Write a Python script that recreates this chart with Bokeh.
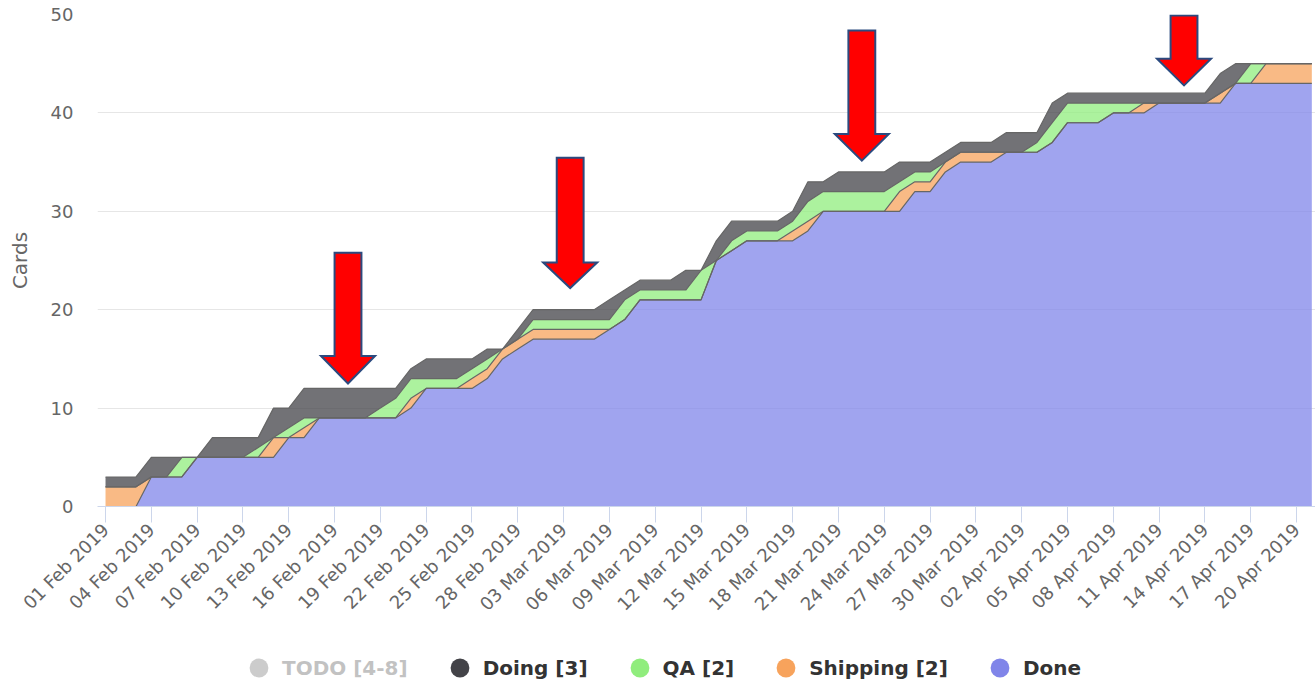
import math
import pandas as pd
from bokeh.plotting import figure
from bokeh.layouts import column
from bokeh.models import (ColumnDataSource, FixedTicker, DatetimeTickFormatter,
                          Legend, LegendItem, Range1d)
from bokeh.embed import file_html
from bokeh.resources import INLINE

# ---------------- data (one value per day, starting 01 Feb 2019) ----------------
START = "2019-02-01"
done = [0, 0, 0, 3, 3, 3, 5, 5, 5, 5,
        5, 5, 7, 7, 9, 9, 9, 9, 9, 9,
        10, 12, 12, 12, 12, 13, 15, 16, 17, 17,
        17, 17, 17, 18, 19, 21, 21, 21, 21, 21,
        25, 26, 27, 27, 27, 27, 28, 30, 30, 30,
        30, 30, 30, 32, 32, 34, 35, 35, 35, 36,
        36, 36, 37, 39, 39, 39, 40, 40, 40, 41,
        41, 41, 41, 41, 43, 43, 43, 43, 43, 43]
shipping = [2, 2, 2, 0, 0, 0, 0, 0, 0, 0,
            0, 2, 0, 1, 0, 0, 0, 0, 0, 0,
            1, 0, 0, 0, 1, 1, 1, 1, 1, 1,
            1, 1, 1, 0, 0, 0, 0, 0, 0, 0,
            0, 0, 0, 0, 0, 1, 1, 0, 0, 0,
            0, 0, 2, 1, 1, 1, 1, 1, 1, 0,
            0, 0, 0, 0, 0, 0, 0, 0, 1, 0,
            0, 0, 0, 1, 0, 0, 2, 2, 2, 2]
qa = [0, 0, 0, 0, 0, 2, 0, 0, 0, 0,
      1, 0, 1, 1, 0, 0, 0, 0, 1, 2,
      2, 1, 1, 1, 1, 1, 0, 0, 1, 1,
      1, 1, 1, 1, 2, 1, 1, 1, 1, 3,
      0, 1, 1, 1, 1, 1, 2, 2, 2, 2,
      2, 2, 1, 1, 1, 0, 0, 0, 0, 0,
      0, 1, 2, 2, 2, 2, 1, 1, 0, 0,
      0, 0, 0, 0, 0, 2, 0, 0, 0, 0]
doing = [1, 1, 1, 2, 2, 0, 0, 2, 2, 2,
         1, 3, 2, 3, 3, 3, 3, 3, 2, 1,
         1, 2, 2, 2, 1, 1, 0, 1, 1, 1,
         1, 1, 1, 2, 1, 1, 1, 1, 2, 0,
         2, 2, 1, 1, 1, 1, 2, 1, 2, 2,
         2, 2, 2, 1, 1, 1, 1, 1, 1, 2,
         2, 1, 2, 1, 1, 1, 1, 1, 1, 1,
         1, 1, 1, 2, 2, 0, 0, 0, 0, 0]

series_names = ["TODO [4-8]", "Doing [3]", "QA [2]", "Shipping [2]", "Done"]
series_colors = ["#7cb5ec", "#434348", "#90ed7d", "#f7a35c", "#8085e9"]
hidden_series = ["TODO [4-8]"]

y_ticks = [0, 10, 20, 30, 40, 50]
x_tick_first = "2019-02-01"
x_tick_last = "2019-04-20"
x_tick_step = "3D"

# annotation arrows: centre (days after start), tip / head-base / top (cards)
arrow_day = [15.88, 30.43, 49.53, 70.63]
arrow_tip = [12.5, 22.2, 35.15, 42.8]
arrow_base = [15.3, 24.8, 37.86, 45.5]
arrow_top = [25.8, 35.45, 48.37, 49.9]
ARROW_SHAFT_HALF = 0.88   # days
ARROW_HEAD_HALF = 1.77    # days

# ---------------- figure ----------------
t0 = pd.Timestamp(START)


def ms(ts):
    return ts.value / 1e6


W = 1315
H_MAIN = 640
H_LEG = 44
FRAME_LEFT = 97

dates = pd.date_range(START, periods=len(done), freq="D")
src = ColumnDataSource(dict(date=dates, done=done, shipping=shipping, qa=qa, doing=doing))

p = figure(width=W, height=H_MAIN, x_axis_type="datetime",
           output_backend="svg", toolbar_location=None,
           x_range=Range1d(ms(t0 - pd.Timedelta(hours=12.6)), ms(t0 + pd.Timedelta(days=79.24))),
           y_range=Range1d(0, 50),
           min_border_left=FRAME_LEFT, min_border_right=0, min_border_top=14,
           min_border_bottom=H_MAIN - 14 - 492)
p.outline_line_color = None
p.background_fill_color = "white"
p.border_fill_color = "white"

stack = ["done", "shipping", "qa", "doing"]
stack_colors = [series_colors[4], series_colors[3], series_colors[2], series_colors[1]]
p.varea_stack(stack, x="date", fill_color=stack_colors, fill_alpha=0.75, source=src)
p.vline_stack(stack, x="date", line_color="#666666", line_width=1.2, source=src)

# arrows
axs, ays = [], []
for d, tip, base, top in zip(arrow_day, arrow_tip, arrow_base, arrow_top):
    c = t0 + pd.Timedelta(days=d)
    sw = pd.Timedelta(days=ARROW_SHAFT_HALF)
    hw = pd.Timedelta(days=ARROW_HEAD_HALF)
    axs.append([ms(c - sw), ms(c + sw), ms(c + sw), ms(c + hw), ms(c), ms(c - hw), ms(c - sw)])
    ays.append([top, top, base, base, tip, base, base])
p.patches(axs, ays, fill_color="#ff0000", line_color="#2b4a7f", line_width=2, line_join="miter")

# axes
ticks = pd.date_range(x_tick_first, x_tick_last, freq=x_tick_step)
xa = p.xaxis[0]
xa.ticker = FixedTicker(ticks=[ms(t) for t in ticks])
fmt = "%d %b %Y"
xa.formatter = DatetimeTickFormatter(milliseconds=fmt, seconds=fmt, minsec=fmt, minutes=fmt,
                                     hourmin=fmt, hours=fmt, days=fmt, months=fmt, years=fmt)
xa.major_label_orientation = math.pi / 4
xa.major_label_text_font = "DejaVu Sans"
xa.major_label_text_font_size = "18px"
xa.major_label_text_color = "#666666"
xa.major_label_standoff = 4
xa.axis_line_color = "#ccd6eb"
xa.major_tick_line_color = "#ccd6eb"
xa.major_tick_out = 16
xa.major_tick_in = 0
xa.minor_tick_line_color = None

ya = p.yaxis[0]
ya.ticker = FixedTicker(ticks=y_ticks)
ya.major_label_text_font = "DejaVu Sans"
ya.major_label_text_font_size = "18px"
ya.major_label_text_color = "#666666"
ya.major_label_standoff = 18
ya.axis_line_color = None
ya.major_tick_line_color = None
ya.minor_tick_line_color = None
ya.axis_label = "Cards"
ya.axis_label_text_font = "DejaVu Sans"
ya.axis_label_text_font_style = "normal"
ya.axis_label_text_font_size = "20px"
ya.axis_label_text_color = "#666666"
ya.axis_label_standoff = 16

p.xgrid.visible = False
p.ygrid.grid_line_color = "#e6e6e6"

# legend strip (own figure so the legend is not clipped by the plot frame;
# the column aligns its frame with the main plot's frame)
lg = figure(width=W, height=H_LEG, output_backend="svg", toolbar_location=None,
            x_range=Range1d(0, 1), y_range=Range1d(0, 1),
            x_axis_location=None, y_axis_location=None,
            min_border_left=0, min_border_right=0, min_border_top=0, min_border_bottom=0)
lg.grid.visible = False
lg.outline_line_color = None
lg.background_fill_color = "white"
lg.border_fill_color = "white"

items = []
for name, col in zip(series_names, series_colors):
    leg_col = "#555555" if name in hidden_series else col
    # proxy glyph for the legend only; its single point lies outside the strip's range
    r = lg.scatter(x=[-5], y=[-5], marker="circle", size=19, fill_color=leg_col, line_color=None)
    if name in hidden_series:
        r.visible = False
    items.append(LegendItem(label=name, renderers=[r]))

legend = Legend(items=items, orientation="horizontal", location=(235 - FRAME_LEFT, -7),
                click_policy="hide", inactive_fill_color="white", inactive_fill_alpha=0.7,
                glyph_width=47, glyph_height=47, label_standoff=0, spacing=28,
                padding=0, margin=0, border_line_color=None, background_fill_alpha=0,
                label_text_font="DejaVu Sans", label_text_font_style="bold",
                label_text_font_size="20px", label_text_color="#333333")
lg.add_layout(legend)

open("out.html", "w").write(file_html(column(p, lg, spacing=0), INLINE, "Cumulative flow"))
